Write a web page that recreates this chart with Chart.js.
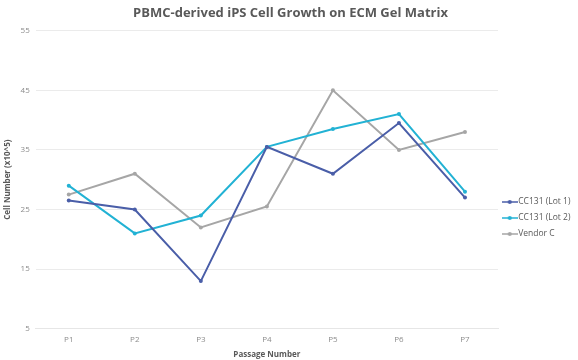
<!DOCTYPE html>
<html>
<head>
<meta charset="utf-8">
<script src="https://cdn.jsdelivr.net/npm/chart.js@4"></script>
<style>
html,body{margin:0;padding:0;background:#fff;}
#wrap{width:578px;height:360px;}
</style>
</head>
<body>
<div id="wrap"><canvas id="c" width="578" height="360"></canvas></div>
<script>
const categories = ["P1","P2","P3","P4","P5","P6","P7"];
const lot1 = [26.5, 25, 13, 35.5, 31, 39.5, 27];
const lot2 = [29, 21, 24, 35.5, 38.5, 41, 28];
const vendorC = [27.5, 31, 22, 25.5, 45, 35, 38];
const seriesNames = ["CC131 (Lot 1)", "CC131 (Lot 2)", "Vendor C"];
const colors = ["#4a5ea8", "#22b2d4", "#a6a6a6"];

function legendIcon(color){
  const c = document.createElement('canvas');
  c.width = 16; c.height = 6;
  const x = c.getContext('2d');
  x.strokeStyle = color; x.lineWidth = 1.5;
  x.beginPath(); x.moveTo(0,3); x.lineTo(16,3); x.stroke();
  x.fillStyle = color;
  x.beginPath(); x.arc(8,3,2,0,Math.PI*2); x.fill();
  return c;
}

const font = "'Open Sans', 'Liberation Sans', sans-serif";
const data = [lot1, lot2, vendorC];
const datasets = data.map((d,i)=>({
  label: seriesNames[i],
  data: d,
  borderColor: colors[i],
  backgroundColor: colors[i],
  borderWidth: 2,
  pointRadius: 2,
  pointBorderWidth: 0,
  pointHoverRadius: 2,
  tension: 0,
  pointStyle: 'circle',
  icon: legendIcon(colors[i])
}));

const legendShift = {
  id: 'legendShift',
  afterLayout(chart){
    const lg = chart.legend;
    if (lg) { lg.top += 38; lg.bottom += 38; }
  }
};

new Chart(document.getElementById('c'), {
  type: 'line',
  data: { labels: categories, datasets },
  plugins: [legendShift],
  options: {
    responsive: false,
    animation: false,
    devicePixelRatio: 1,
    layout: { padding: { top: 0, left: 3, right: 0, bottom: 0 } },
    plugins: {
      title: {
        display: true,
        text: "PBMC-derived iPS Cell Growth on ECM Gel Matrix",
        color: "#595959",
        font: { family: font, size: 13, weight: 'bold' },
        padding: { top: 5, bottom: 10 }
      },
      legend: {
        position: 'right',
        maxWidth: 80,
        labels: {
          usePointStyle: true,
          color: "#595959",
          font: { family: font, size: 8.5 },
          boxWidth: 16,
          boxHeight: 6,
          padding: 7.5,
          generateLabels(chart){
            return chart.data.datasets.map((ds,i)=>({
              text: ds.label,
              fillStyle: ds.borderColor,
              strokeStyle: ds.borderColor,
              fontColor: "#595959",
              pointStyle: ds.icon,
              datasetIndex: i,
              hidden: false,
              lineWidth: 0
            }));
          }
        }
      },
      tooltip: { enabled: false }
    },
    scales: {
      x: {
        offset: true,
        grid: { display: false, drawTicks: false },
        border: { display: true, color: "#e6e6e6" },
        ticks: { color: "#8c8c8c", font: { family: font, size: 8 }, padding: 6 },
        title: { display: true, text: "Passage Number", color: "#595959", font: { family: font, size: 8, weight: 'bold' }, padding: { top: 0, bottom: 0 } }
      },
      y: {
        min: 5, max: 55,
        ticks: { stepSize: 10, color: "#8c8c8c", font: { family: font, size: 8 }, padding: 6 },
        grid: { color: "#ebebeb", drawTicks: false },
        border: { display: false },
        title: { display: true, text: "Cell Number (x10^5)", color: "#595959", font: { family: font, size: 8, weight: 'bold' }, padding: { top: 0, bottom: 2 } }
      }
    }
  }
});
</script>
</body>
</html>
